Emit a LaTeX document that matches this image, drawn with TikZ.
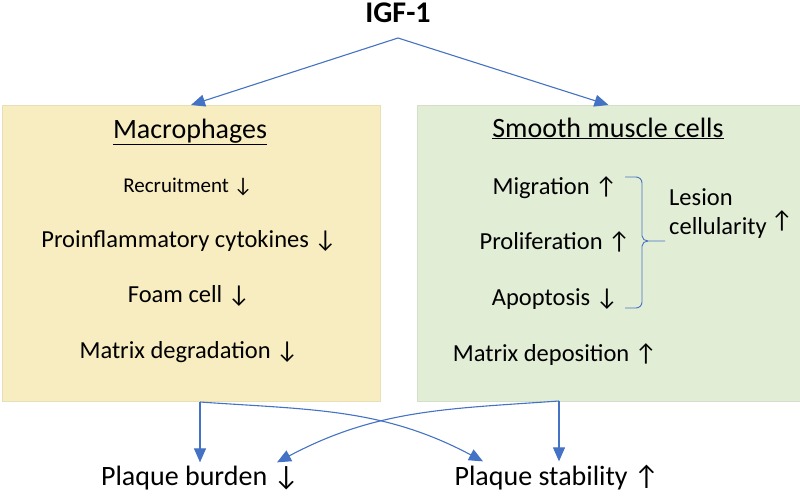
\documentclass[tikz,border=0pt]{standalone}
\usepackage{fontspec}
\setmainfont{Carlito}
\usetikzlibrary{arrows.meta,calc}
\definecolor{linkblue}{HTML}{4472C4}
\definecolor{macfill}{HTML}{F8EDC0}
\definecolor{smcfill}{HTML}{E2EDD6}

\begin{document}
\begin{tikzpicture}[x=1pt, y=-1pt,
  cell box/.style={minimum width=#1, minimum height=296pt, inner sep=0pt, outer sep=0pt},
  head node/.style={anchor=base, inner sep=0pt, font=\fontsize{28}{32}\selectfont},
  item node/.style={anchor=base, inner sep=0pt, font=\fontsize{24.5}{29}\selectfont},
  end node/.style={anchor=base, inner sep=3pt, font=\fontsize{28}{32}\selectfont},
  link/.style={draw=linkblue, line width=1.1pt, -{Triangle[length=14pt,width=12pt]}}]
  \useasboundingbox (0,0) rectangle (800,495);

  \node[anchor=base, inner sep=0pt, font=\fontsize{30}{34}\selectfont\bfseries] (igf) at (398,23) {IGF-1};
  \coordinate (split) at (398,38);

  \node[cell box=378pt, fill=macfill, draw=macfill!90!black!60!macfill] (mac) at (191,253) {};
  \node[cell box=383pt, fill=smcfill, draw=smcfill!90!black!60!smcfill] (smc) at (608.5,253) {};

  \node[head node] (machead) at (190,138) {\underline{Macrophages}};
  \node[head node] (smchead) at (608,137) {\underline{Smooth muscle cells}};

  \node[item node, font=\fontsize{21}{25}\selectfont] (recruit) at (188,192) {Recruitment ↓};
  \node[item node] (cyto) at (189,247) {Proinflammatory cytokines ↓};
  \node[item node] (foam) at (189,302) {Foam cell ↓};
  \node[item node] (degrade) at (189,358) {Matrix degradation ↓};

  \node[item node] (migr) at (555,194) {Migration ↑};
  \node[item node] (prolif) at (555,249) {Proliferation ↑};
  \node[item node] (apopt) at (555,305) {Apoptosis ↓};
  \node[item node] (deposit) at (555,361) {Matrix deposition ↑};

  \node[item node, anchor=base west, align=left] (lesion) at (669,234) {Lesion\\cellularity\,\raisebox{6pt}{↑}};

  % bracket
  \draw[linkblue, line width=0.9pt] (625,177) -- (636,177) to[out=0,in=90] (642,183)
    -- (642,236) to[out=-90,in=180] (648,241) -- (665,241);
  \draw[linkblue, line width=0.9pt] (625,308) -- (636,308) to[out=0,in=-90] (642,302)
    -- (642,246) to[out=90,in=180] (648,241);

  \node[end node] (burden) at (200,485) {Plaque burden ↓};
  \node[end node] (stability) at (557,485) {Plaque stability ↑};
  \coordinate (macout) at (200,402);
  \coordinate (smcout) at (559,401);

  \path (split) edge[link] (mac.north);
  \path (split) edge[link] (smc.north);

  \path (macout) edge[link] (macout |- burden.north);
  \path (smcout) edge[link] (smcout |- stability.north);
  \path (macout) edge[link, out=-4, in=152] ([xshift=-74pt]stability.north);
  \path (smcout) edge[link, out=184, in=28] ([xshift=77pt]burden.north);
\end{tikzpicture}
\end{document}
